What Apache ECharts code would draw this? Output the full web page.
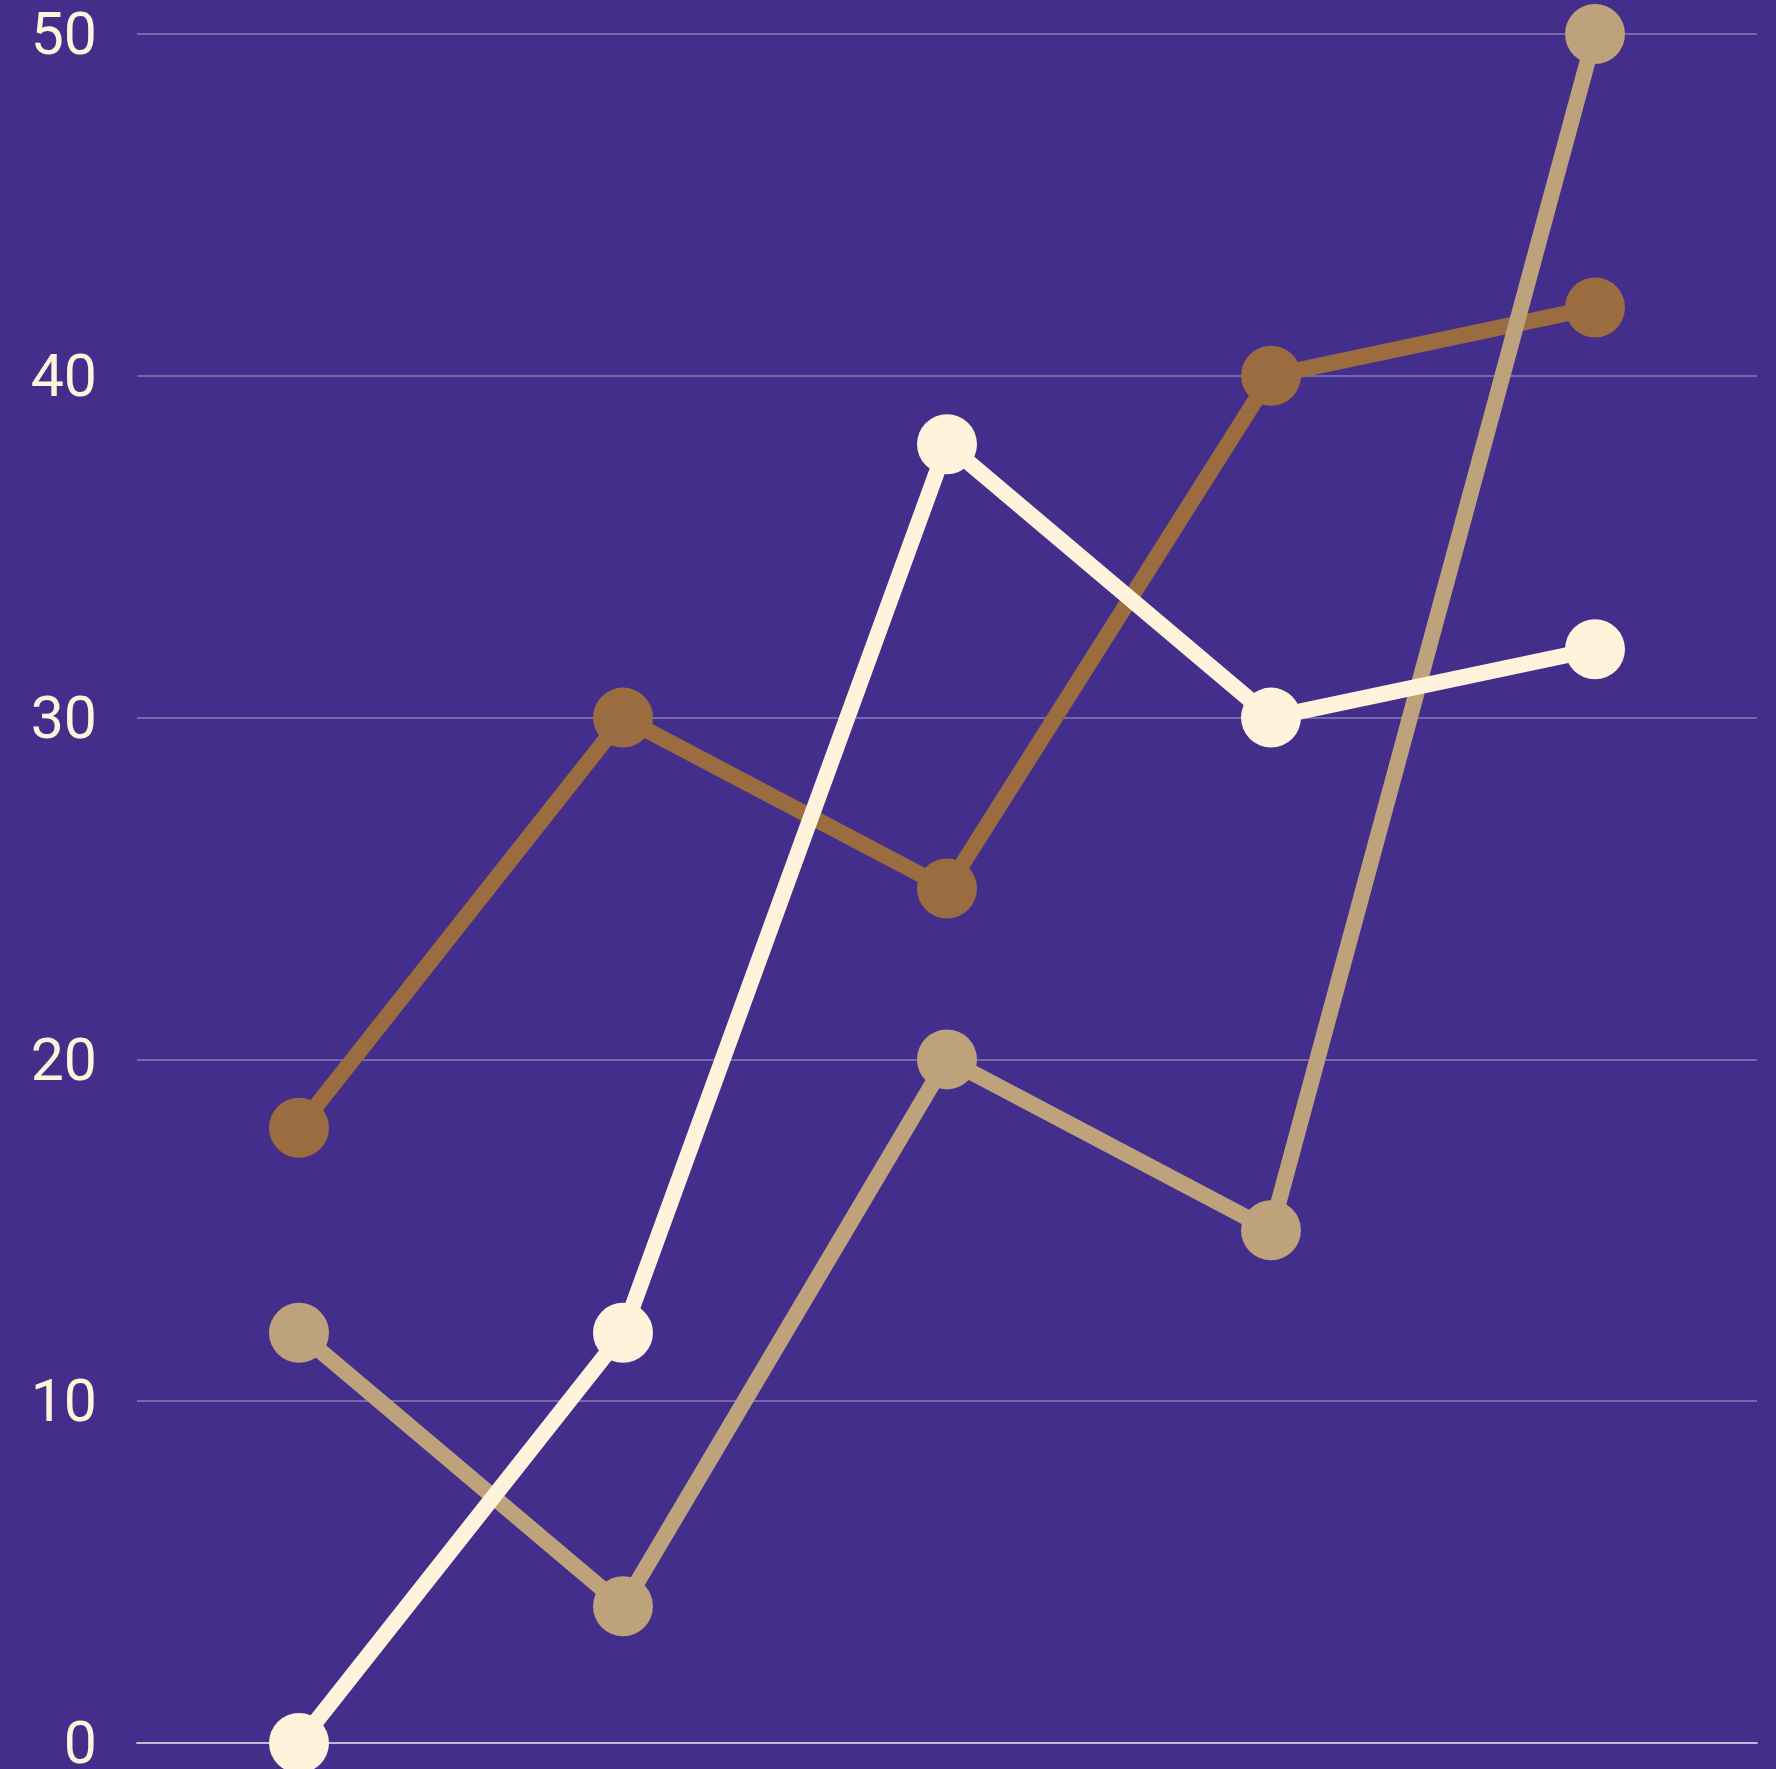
<!DOCTYPE html>
<html>
<head>
<meta charset="utf-8">
<style>
  html, body { margin: 0; padding: 0; background: #432e8b; }
  #chart { width: 1776px; height: 1769px; }
</style>
<script src="https://cdn.jsdelivr.net/npm/echarts@6/dist/echarts.min.js"></script>
</head>
<body>
<div id="chart"></div>
<script>
var categories = ["A", "B", "C", "D", "E"];
var creamValues = [0, 12, 38, 30, 32];
var brownValues = [18, 30, 25, 40, 42];
var tanValues = [12, 4, 20, 15, 50];

var chartDom = document.getElementById("chart");
var myChart = echarts.init(chartDom);

function lineSeries(name, data, color) {
    return {
        name: name,
        type: "line",
        data: data,
        symbol: "circle",
        symbolSize: 60,
        lineStyle: { width: 16, color: color },
        itemStyle: { color: color },
        emphasis: { disabled: true }
    };
}

var option = {
    backgroundColor: "#432e8b",
    animation: false,
    grid: { left: 137, right: 19, top: 34, bottom: 26, outerBoundsMode: "none" },
    xAxis: {
        type: "category",
        data: categories,
        axisLine: { show: true, lineStyle: { color: "rgba(255,255,255,0.55)", width: 2 } },
        axisTick: { show: false },
        axisLabel: { show: false }
    },
    yAxis: {
        type: "value",
        min: 0,
        max: 50,
        interval: 10,
        axisLine: { show: false },
        axisTick: { show: false },
        axisLabel: {
            color: "#fff3dc",
            fontFamily: "Roboto",
            fontSize: 59,
            margin: 40,
            verticalAlign: "top",
            lineHeight: 59,
            padding: [-24, 0, 0, 0]
        },
        splitLine: { lineStyle: { color: "rgba(255,255,255,0.28)", width: 2 } }
    },
    series: [
        lineSeries("brown", brownValues, "#9a6c40"),
        lineSeries("tan", tanValues, "#bda27b"),
        lineSeries("cream", creamValues, "#fff3dc")
    ]
};
myChart.setOption(option);
</script>
</body>
</html>
